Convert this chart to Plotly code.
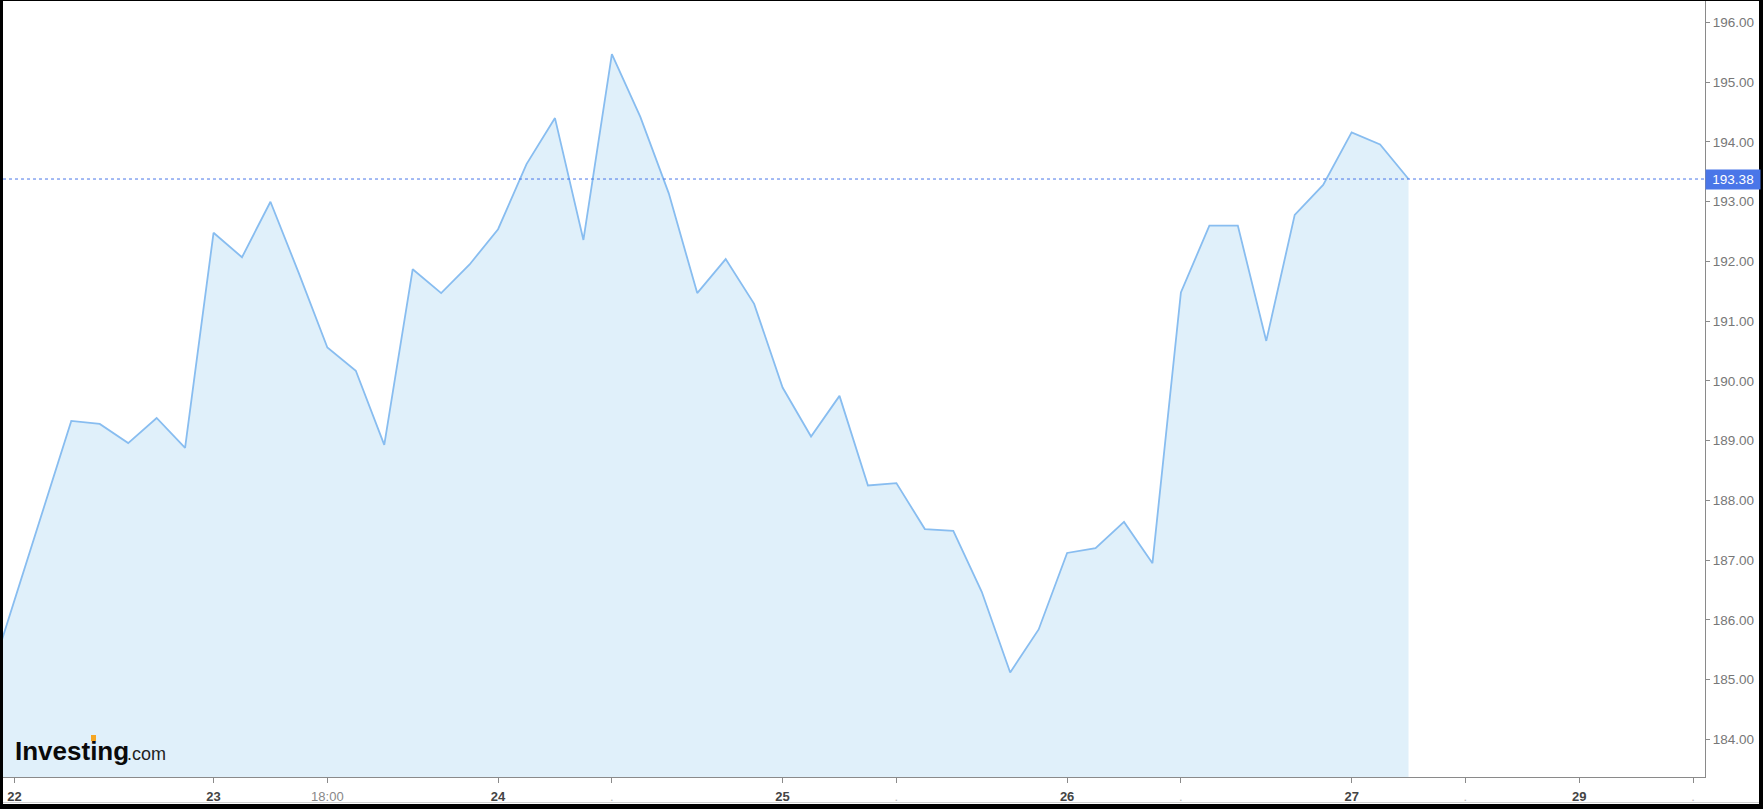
import plotly.graph_objects as go

# ---- data ----
slot = list(range(-1, 50))  # hourly trading slots (index)
price = [184.82, 186.31, 187.84, 189.33, 189.28, 188.96, 189.38, 188.88, 192.48, 192.07,
         193.00, 191.80, 190.56, 190.17, 188.93, 191.87, 191.47, 191.95, 192.54, 193.63,
         194.40, 192.36, 195.47, 194.42, 193.14, 191.47, 192.04, 191.29, 189.89, 189.07,
         189.75, 188.25, 188.29, 187.52, 187.49, 186.47, 185.12, 185.84, 187.12, 187.20,
         187.64, 186.95, 191.48, 192.60, 192.60, 190.67, 192.78, 193.28, 194.16, 193.96,
         193.38]
last_price = 193.38
x_tick_slots = [0, 7, 11, 17, 21, 27, 31, 37, 41, 47, 51, 55, 59]
x_tick_labels = ["22", "23", "18:00", "24", ".", "25", ".", "26", ".", "27", ".", "29", "."]
y_ticks = [184, 185, 186, 187, 188, 189, 190, 191, 192, 193, 194, 195, 196]

# ---- geometry ----
W, H = 1763, 809
ML, MR, MT, MB = 3, 58, 1, 32
PW, PH = W - ML - MR, H - MT - MB

def px_x(p):
    return (p - ML) / PW

def px_y(p):
    return (H - MB - p) / PH

def fmt_tick(lbl):
    if lbl == ".":
        return "<span style='color:#bbbbbb'>.</span>"
    if ":" in lbl:
        return "<span style='color:#888888'>" + lbl + "</span>"
    return "<b>" + lbl + "</b>"

fig = go.Figure()
fig.add_trace(go.Scatter(
    x=slot, y=price, mode="lines",
    line=dict(color="#88bdf0", width=1.8),
    fill="tozeroy", fillcolor="#e0f0fa",
    hoverinfo="skip", showlegend=False,
))

fig.update_layout(
    width=W, height=H,
    margin=dict(l=ML, r=MR, t=MT, b=MB, pad=0),
    paper_bgcolor="white", plot_bgcolor="white",
    font=dict(family="Liberation Sans, Arial, sans-serif", size=12, color="#666666"),
    xaxis=dict(
        range=[-0.40, 59.42], showgrid=False, zeroline=False,
        showline=True, linecolor="#8a8a8a", linewidth=1,
        tickmode="array", tickvals=x_tick_slots,
        ticktext=[fmt_tick(t) for t in x_tick_labels],
        ticks="outside", ticklen=5, tickcolor="#8a8a8a", tickwidth=1,
        tickfont=dict(size=13, color="#444444"),
        ticklabelstandoff=2,
    ),
    yaxis=dict(
        range=[183.37, 196.36], side="right", showgrid=False, zeroline=False,
        showline=True, linecolor="#8a8a8a", linewidth=1,
        tickmode="array", tickvals=y_ticks,
        ticktext=["%.2f" % v for v in y_ticks],
        ticks="outside", ticklen=4, tickcolor="#8a8a8a", tickwidth=1,
        tickfont=dict(size=13.5, color="#777777"),
    ),
)

# current price dotted line
fig.add_shape(type="line", xref="paper", yref="y", x0=0, x1=1, y0=last_price, y1=last_price,
              line=dict(color="#4a76e8", width=1, dash="dot"))
# current price label
fig.add_annotation(xref="paper", yref="y", x=1, y=last_price, xanchor="left", yanchor="middle",
                   text="%.2f" % last_price, showarrow=False,
                   bgcolor="#4a76e8", font=dict(color="white", size=13.5),
                   width=52, height=17, align="center", borderpad=1)

# logo
fig.add_annotation(xref="paper", yref="paper", x=px_x(13), y=px_y(751), xanchor="left", yanchor="middle",
                   text="<b>Investing</b>", showarrow=False,
                   font=dict(family="Liberation Sans, Arial", size=26, color="#0a0a0a"))
fig.add_annotation(xref="paper", yref="paper", x=px_x(125), y=px_y(754), xanchor="left", yanchor="middle",
                   text=".com", showarrow=False,
                   font=dict(family="Liberation Sans, Arial", size=18, color="#222222"))
fig.add_shape(type="rect", xref="paper", yref="paper",
              x0=px_x(91), x1=px_x(96), y0=px_y(741), y1=px_y(735),
              fillcolor="#f5a623", line=dict(width=0), layer="above")

# frame borders
fig.add_shape(type="rect", xref="paper", yref="paper", x0=px_x(0), x1=px_x(3), y0=px_y(0), y1=px_y(809),
              fillcolor="black", line=dict(width=0), layer="above")
fig.add_shape(type="rect", xref="paper", yref="paper", x0=px_x(1759), x1=px_x(1763), y0=px_y(0), y1=px_y(809),
              fillcolor="black", line=dict(width=0), layer="above")
fig.add_shape(type="rect", xref="paper", yref="paper", x0=px_x(0), x1=px_x(1763), y0=px_y(0), y1=px_y(1),
              fillcolor="black", line=dict(width=0), layer="above")
fig.add_shape(type="rect", xref="paper", yref="paper", x0=px_x(0), x1=px_x(1763), y0=px_y(804), y1=px_y(809),
              fillcolor="black", line=dict(width=0), layer="above")
fig.add_shape(type="line", xref="paper", yref="paper", x0=px_x(3), x1=px_x(1759), y0=px_y(802.5), y1=px_y(802.5),
              line=dict(color="#d0d0d0", width=1), layer="above")

fig.write_html("out.html", config={"displayModeBar": False},
               post_script="document.body.style.margin='0px';document.body.style.overflow='hidden';")
